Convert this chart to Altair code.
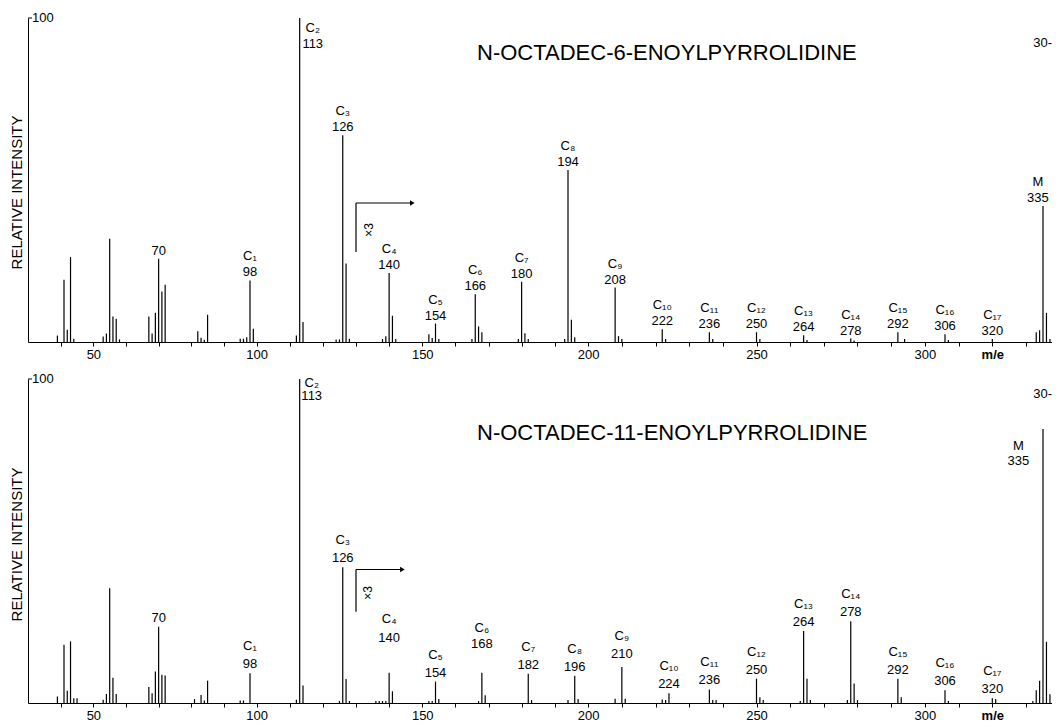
import altair as alt
import pandas as pd

# ---------------- data ----------------
# Relative intensities (% of base peak). Peaks at m/e >= 130 are drawn magnified x3.
mz_a = [39, 41, 42, 43, 44, 53, 54, 55, 56, 57, 58, 67, 68, 69, 70, 71, 72, 82, 83, 84, 85,
        95, 96, 97, 98, 99, 112, 113, 114, 124, 125, 126, 127, 128,
        138, 139, 140, 141, 142, 152, 153, 154, 155, 165, 166, 167, 168, 179, 180, 181, 182,
        193, 194, 195, 196, 208, 209, 210, 222, 223, 236, 237, 250, 251, 264, 265, 278, 279,
        292, 294, 306, 307, 320, 333, 334, 335, 336, 337]
int_a = [2.0, 19.2, 3.8, 26.2, 1.0, 1.7, 2.6, 31.9, 7.9, 7.2, 0.8, 7.9, 2.6, 9.0, 25.7, 15.6, 17.7, 3.3, 1.3, 0.7, 8.4,
         1.0, 1.0, 1.5, 19.0, 4.1, 2.0, 100.0, 6.2, 0.8, 0.8, 63.8, 24.2, 1.0,
         0.3, 0.6, 7.1, 2.7, 0.3, 0.8, 0.4, 1.9, 0.3, 0.3, 4.9, 1.6, 1.0, 0.3, 6.2, 0.9, 0.3,
         0.3, 17.7, 2.3, 0.5, 5.6, 0.6, 0.3, 1.3, 0.3, 1.0, 0.3, 1.0, 0.3, 0.7, 0.2, 0.35, 0.15,
         1.0, 0.3, 0.8, 0.2, 0.3, 1.0, 1.2, 14.0, 3.0, 0.3]

mz_b = [39, 41, 42, 43, 44, 45, 53, 54, 55, 56, 57, 67, 68, 69, 70, 71, 72, 81, 83, 84, 85,
        95, 96, 98, 112, 113, 114, 125, 126, 127, 128,
        136, 137, 138, 139, 140, 141, 152, 153, 154, 155, 167, 168, 169, 182, 183, 194, 196, 197,
        208, 210, 211, 222, 223, 224, 236, 237, 238, 250, 251, 252, 263, 264, 265, 266,
        277, 278, 279, 280, 292, 293, 306, 307, 320, 321, 332, 333, 334, 335, 336, 337]
int_b = [2.0, 18.0, 3.8, 19.0, 1.5, 1.5, 1.0, 2.8, 35.4, 7.8, 2.8, 4.9, 3.0, 9.7, 23.5, 8.7, 8.5, 1.2, 2.5, 0.8, 6.9,
         0.8, 0.8, 9.2, 1.0, 100.0, 5.4, 0.6, 41.9, 7.4, 0.6,
         0.2, 0.2, 0.2, 0.2, 3.1, 1.2, 0.2, 0.2, 2.2, 0.4, 0.2, 3.1, 0.8, 3.0, 0.3, 0.3, 2.8, 0.4,
         0.45, 3.7, 0.45, 0.35, 0.3, 1.0, 1.4, 0.3, 0.3, 2.5, 0.6, 0.3, 0.2, 7.4, 2.5, 0.3,
         0.3, 8.4, 2.0, 0.3, 2.5, 0.6, 1.3, 0.2, 0.5, 0.4, 0.2, 1.3, 2.3, 28.2, 6.3, 0.9]

label_names = ["", "C₁", "C₂", "C₃", "C₄", "C₅", "C₆", "C₇", "C₈", "C₉", "C₁₀",
               "C₁₁", "C₁₂", "C₁₃", "C₁₄", "C₁₅", "C₁₆", "C₁₇", "M"]
label_mz_a = [70, 98, 113, 126, 140, 154, 166, 180, 194, 208, 222, 236, 250, 264, 278, 292, 306, 320, 335]
label_mz_b = [70, 98, 113, 126, 140, 154, 168, 182, 196, 210, 224, 236, 250, 264, 278, 292, 306, 320, 335]

title_a = "N-OCTADEC-6-ENOYLPYRROLIDINE"
title_b = "N-OCTADEC-11-ENOYLPYRROLIDINE"
x_ticks = list(range(40, 340, 10))
MAG_FROM = 130
MAG = 3

# ---------------- styling / layout ----------------
FONT = "Liberation Sans"
W, H = 1024, 324
PX = 100.0 / H          # y data units per pixel
XPX = 1 / 3.3           # x data units per pixel (approx.)
X_SCALE = alt.Scale(domain=[30.1, 41, 98, 194, 306, 335, 337.6],
                    range=[0, 36, 222, 540, 917, 1015, 1024], nice=False, zero=False)
Y_SCALE = alt.Scale(domain=[0, 100], nice=False, zero=True)

X_AXIS = alt.Axis(values=x_ticks,
                  labelExpr="datum.value == 320 ? 'm/e' : (datum.value % 50 == 0 ? datum.label : '')",
                  labelFontWeight={"condition": {"test": "datum.value == 320", "value": "bold"},
                                   "value": "normal"},
                  tickSize=4, tickColor="black", domainColor="black", labelColor="black",
                  labelFont=FONT, labelFontSize=13, labelPadding=2, grid=False, title=None,
                  labelFlush=False, labelOverlap=False)


def make_y_axis(title_y):
    return alt.Axis(title="RELATIVE INTENSITY", ticks=False, labels=False, domain=True,
                    domainColor="black", grid=False, titleFont=FONT, titleFontSize=15,
                    titleFontWeight="normal", titleColor="black", titlePadding=4,
                    titleY=title_y)


def panel(mz, inten, lab_mz, title, title_y, ytitle_y, defaults, overrides,
          bracket, thirty_y):
    peaks = pd.DataFrame({"mz": mz, "rel": inten})
    peaks["disp"] = [r * MAG if m >= MAG_FROM else r for m, r in zip(mz, inten)]
    top = dict(zip(peaks["mz"], peaks["disp"]))

    rows = []
    for m, name in zip(lab_mz, label_names):
        ov = overrides.get(m, {})
        num_up = ov.get("num", defaults[0])
        name_up = ov.get("name", defaults[1])
        dx = ov.get("dx", 0)
        rows.append({"lx": m + dx * XPX,
                     "ly_num": top[m] + num_up * PX,
                     "ly_name": top[m] + name_up * PX,
                     "num": str(m), "name": name})
    labels = pd.DataFrame(rows)

    y_axis = make_y_axis(ytitle_y)

    def X(f):
        return alt.X(f, scale=X_SCALE, axis=X_AXIS)

    def Y(f):
        return alt.Y(f, scale=Y_SCALE, axis=y_axis)

    rules = alt.Chart(peaks).mark_rule(color="black", strokeWidth=1.2).encode(
        x=X("mz:Q"), y=Y("disp:Q"), y2=alt.datum(0))
    txt = dict(font=FONT, fontSize=13, color="black", align="center", baseline="middle")
    nums = alt.Chart(labels).mark_text(**txt).encode(
        x=X("lx:Q"), y=Y("ly_num:Q"), text="num:N")
    names = alt.Chart(labels).mark_text(**txt).encode(
        x=X("lx:Q"), y=Y("ly_name:Q"), text="name:N")

    # x3 magnification marker
    bx0, bx1, by0, by1, tx, ty = bracket
    br = pd.DataFrame({"x": [bx0, bx0], "x2": [bx0, bx1], "y": [by0, by1], "y2": [by1, by1]})
    bracket_rules = alt.Chart(br).mark_rule(color="black", strokeWidth=1.2).encode(
        x=X("x:Q"), x2="x2:Q", y=Y("y:Q"), y2="y2:Q")
    arrow = alt.Chart(pd.DataFrame({"x": [bx1], "y": [by1]})).mark_point(
        shape="triangle-right", filled=True, color="black", size=28, opacity=1).encode(
        x=X("x:Q"), y=Y("y:Q"))
    times = alt.Chart(pd.DataFrame({"x": [tx], "y": [ty], "t": ["×3"]})).mark_text(
        font=FONT, fontSize=12, color="black", angle=270, align="center", baseline="middle").encode(
        x=X("x:Q"), y=Y("y:Q"), text="t:N")

    # top-of-axis 100 mark and right-hand 30 mark
    tick100 = alt.Chart(pd.DataFrame({"v": [100]})).mark_rule(color="black", strokeWidth=1).encode(
        x=alt.value(0), x2=alt.value(4), y=Y("v:Q"))
    lab100 = alt.Chart(pd.DataFrame({"v": [100], "t": ["100"]})).mark_text(
        font=FONT, fontSize=13, color="black", align="left", baseline="middle", dx=4).encode(
        x=alt.value(0), y=Y("v:Q"), text="t:N")
    lab30 = alt.Chart(pd.DataFrame({"v": [thirty_y], "t": ["30-"]})).mark_text(
        font=FONT, fontSize=13, color="black", align="right", baseline="middle").encode(
        x=alt.value(W), y=Y("v:Q"), text="t:N")

    ttl = alt.Chart(pd.DataFrame({"t": [title]})).mark_text(
        font=FONT, fontSize=22, color="black", align="left", baseline="middle").encode(
        x=alt.value(449), y=alt.value(title_y), text="t:N")

    return alt.layer(rules, nums, names, bracket_rules, arrow, times,
                     tick100, lab100, lab30, ttl).properties(width=W, height=H)


top_chart = panel(
    mz_a, int_a, label_mz_a, title_a, title_y=35, ytitle_y=174,
    defaults=(8, 24),
    overrides={113: {"dx": 13, "num": -26, "name": -10}, 335: {"dx": -5}},
    bracket=(130, 147, 27.8, 42.9, 134, 34.6), thirty_y=92.3)

bottom_chart = panel(
    mz_b, int_b, label_mz_b, title_b, title_y=54, ytitle_y=165,
    defaults=(9, 27),
    overrides={113: {"dx": 12, "num": -17, "name": -4},
               140: {"num": 35, "name": 54},
               168: {"num": 29, "name": 45},
               210: {"num": 13, "name": 31},
               335: {"dx": -24, "num": -32, "name": -17}},
    bracket=(130, 144, 28.2, 41.2, 133.6, 34.0), thirty_y=95.4)

chart = alt.vconcat(top_chart, bottom_chart, spacing=12).properties(
    padding={"left": 1, "top": 4, "right": 0, "bottom": 0},
    background="white",
).configure_view(stroke=None)

chart.save("out.html", embed_options={"renderer": "svg", "actions": False})
